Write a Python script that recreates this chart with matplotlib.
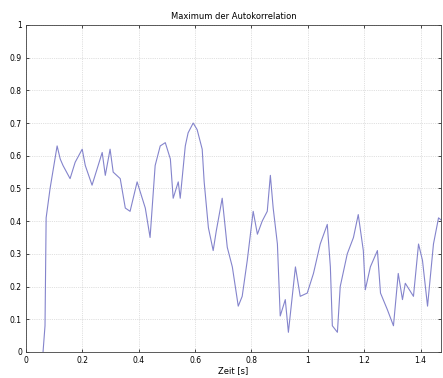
import matplotlib
matplotlib.use("Agg")
import matplotlib.pyplot as plt

# Maximum der Autokorrelation über der Zeit
zeit = [0.060, 0.067, 0.071, 0.085, 0.110, 0.121, 0.131, 0.156, 0.174, 0.199,
        0.210, 0.234, 0.252, 0.270, 0.281, 0.298, 0.309, 0.334, 0.352, 0.369,
        0.394, 0.423, 0.440, 0.458, 0.476, 0.494, 0.512, 0.522, 0.540, 0.547,
        0.565, 0.575, 0.593, 0.607, 0.625, 0.632, 0.647, 0.664, 0.675, 0.696,
        0.714, 0.732, 0.753, 0.767, 0.785, 0.806, 0.821, 0.838, 0.856, 0.867,
        0.877, 0.892, 0.902, 0.920, 0.931, 0.956, 0.973, 0.998, 1.020, 1.044,
        1.069, 1.080, 1.087, 1.105, 1.115, 1.140, 1.162, 1.179, 1.197, 1.204,
        1.222, 1.247, 1.258, 1.282, 1.304, 1.321, 1.336, 1.346, 1.375, 1.393,
        1.407, 1.425, 1.446, 1.464, 1.478]
maxkorr = [0.00, 0.08, 0.41, 0.50, 0.63, 0.59, 0.57, 0.53, 0.58, 0.62,
           0.57, 0.51, 0.56, 0.61, 0.54, 0.62, 0.55, 0.53, 0.44, 0.43,
           0.52, 0.44, 0.35, 0.57, 0.63, 0.64, 0.59, 0.47, 0.52, 0.47,
           0.63, 0.67, 0.70, 0.68, 0.62, 0.52, 0.38, 0.31, 0.37, 0.47,
           0.32, 0.26, 0.14, 0.17, 0.28, 0.43, 0.36, 0.40, 0.43, 0.54,
           0.44, 0.33, 0.11, 0.16, 0.06, 0.26, 0.17, 0.18, 0.24, 0.33,
           0.39, 0.26, 0.08, 0.06, 0.20, 0.30, 0.35, 0.42, 0.31, 0.19,
           0.26, 0.31, 0.18, 0.13, 0.08, 0.24, 0.16, 0.21, 0.17, 0.33,
           0.28, 0.14, 0.33, 0.41, 0.40]

xticks = [0, 0.2, 0.4, 0.6, 0.8, 1, 1.2, 1.4]
xticklabels = ["0", "0.2", "0.4", "0.6", "0.8", "1", "1.2", "1.4"]
yticks = [0, 0.1, 0.2, 0.3, 0.4, 0.5, 0.6, 0.7, 0.8, 0.9, 1]
yticklabels = ["0", "0.1", "0.2", "0.3", "0.4", "0.5", "0.6", "0.7", "0.8", "0.9", "1"]

fig = plt.figure(figsize=(4.43, 3.78), dpi=100)
ax = fig.add_axes([0.059, 0.069, 0.936, 0.865])

ax.plot(zeit, maxkorr, color='#8484cc', lw=0.8)

ax.set_xlim(0, 1.472)
ax.set_ylim(0, 1)
ax.set_xticks(xticks)
ax.set_xticklabels(xticklabels)
ax.set_yticks(yticks)
ax.set_yticklabels(yticklabels)
ax.tick_params(direction='in', top=True, right=True, labelsize=5.5,
               length=2.5, width=0.5, pad=3)
ax.grid(True, color='#c4c4c4', lw=0.5, ls=':')
for s in ax.spines.values():
    s.set_linewidth(0.6)
    s.set_color('#404040')

ax.set_title('Maximum der Autokorrelation', fontsize=6, pad=4)
ax.set_xlabel('Zeit [s]', fontsize=6, labelpad=1)

fig.savefig('out.png', dpi=100)
